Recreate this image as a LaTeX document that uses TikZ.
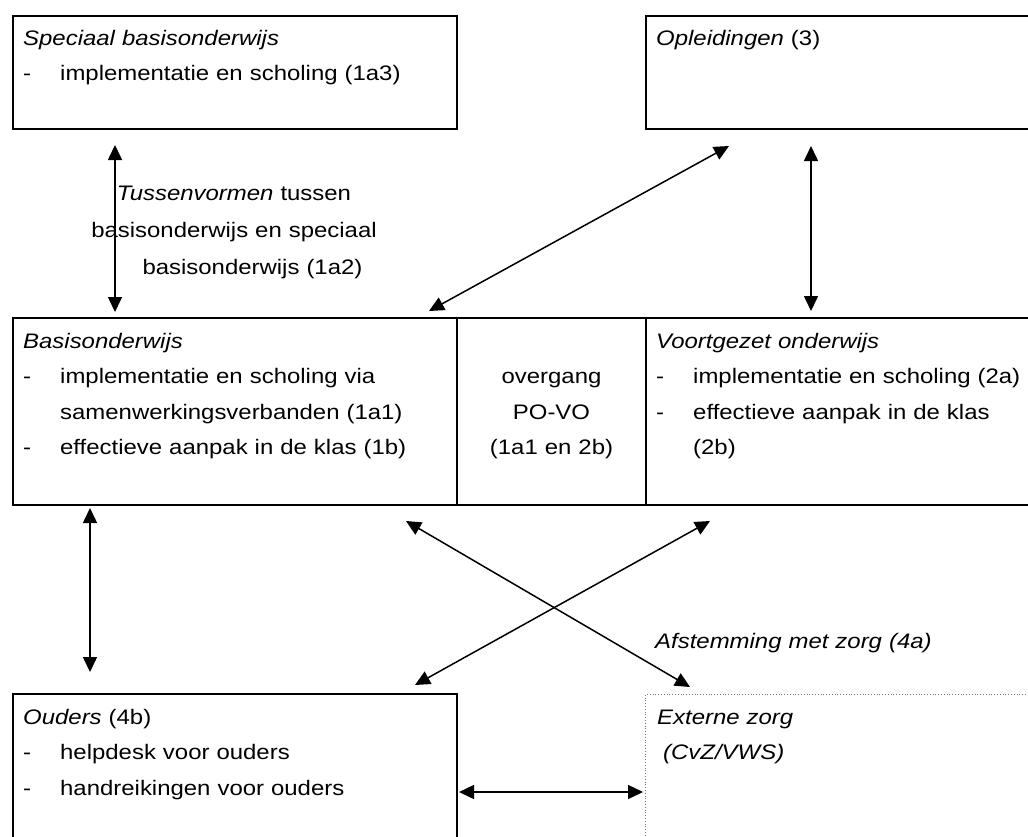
\documentclass[tikz,border=0pt]{standalone}
\usepackage{fontspec}
\setmainfont{Liberation Sans}[FakeStretch=1.14]
\usetikzlibrary{calc,arrows.meta}
\tikzset{
  box/.style={draw, line width=2pt, anchor=north west, inner sep=0pt},
  zorgbox/.style={draw=black!55, dotted, line width=0.8pt, anchor=north west, inner sep=0pt},
  txt/.style={anchor=base west, inner sep=0pt, align=left, text width=420pt, font=\fontsize{21}{35.5}\selectfont},
  ctxt/.style={anchor=base, inner sep=0pt, align=center, text width=300pt, font=\fontsize{21}{35.5}\selectfont},
  link/.style={{Triangle[length=15pt,width=14pt]}-{Triangle[length=15pt,width=14pt]}, line width=1.5pt}
}
\newcommand{\dashitem}[1]{\makebox[37pt][l]{-}#1}

\begin{document}
\begin{tikzpicture}[x=1pt,y=1pt]
  \useasboundingbox (0,0) rectangle (1028,-836);
  \clip (0,0) rectangle (1028,-836);
  % boxes
  \node[box, minimum width=444pt, minimum height=113pt] (sbo) at (12,-15) {};
  \node[box, minimum width=400pt, minimum height=113pt] (opl) at (645,-15) {};
  \node[box, minimum width=444pt, minimum height=187pt] (bo) at (12,-317) {};
  \node[box, minimum width=189pt, minimum height=187pt] (ovg) at (456,-317) {};
  \node[box, minimum width=400pt, minimum height=187pt] (vo) at (645,-317) {};
  \node[box, minimum width=444pt, minimum height=160pt] (oud) at (12,-693) {};
  \node[zorgbox, minimum width=400pt, minimum height=160pt] (ext) at (645,-694) {};
  % texts
  \node[txt] (sbotxt) at ($(sbo.north west)+(11,-30)$)
    {\textit{Speciaal basisonderwijs}\\\dashitem{implementatie en scholing (1a3)}};
  \node[txt] (opltxt) at ($(opl.north west)+(11,-30)$) {\textit{Opleidingen} (3)};
  \node[txt] (botxt) at ($(bo.north west)+(11,-31)$)
    {\textit{Basisonderwijs}\\\dashitem{implementatie en scholing via}\\
     \hspace*{37pt}samenwerkingsverbanden (1a1)\\\dashitem{effectieve aanpak in de klas (1b)}};
  \node[ctxt, text width=180pt] (ovgtxt) at ($(ovg.north)+(0,-66.5)$)
    {overgang\\PO-VO\\(1a1 en 2b)};
  \node[txt, text width=370pt] (votxt) at ($(vo.north west)+(11,-31)$)
    {\textit{Voortgezet onderwijs}\\\dashitem{implementatie en scholing (2a)}\\
     \dashitem{effectieve aanpak in de klas}\\\hspace*{37pt}(2b)};
  \node[txt] (oudtxt) at ($(oud.north west)+(11,-31)$)
    {\textit{Ouders} (4b)\\\dashitem{helpdesk voor ouders}\\\dashitem{handreikingen voor ouders}};
  \node[txt, text width=370pt] (exttxt) at ($(ext.north west)+(12,-30)$)
    {\textit{Externe zorg}\\\hspace*{6pt}\textit{(CvZ/VWS)}};
  \node[ctxt, font=\fontsize{21}{37}\selectfont] (tussen) at (234,-200)
    {\textit{Tussenvormen} tussen\\basisonderwijs en speciaal\\\hspace*{37pt}basisonderwijs (1a2)};
  \node[txt] (afst) at (655,-648) {\textit{Afstemming met zorg (4a)}};
  % connector ends
  \coordinate (sboS) at ($(sbo.south west)+(103,-15)$);
  \coordinate (boN) at ($(bo.north west)+(103,5)$);
  \coordinate (boNE) at ($(bo.north east)+(-29,6)$);
  \coordinate (oplSW) at ($(opl.south west)+(84,-16)$);
  \coordinate (oplS) at ($(opl.south west)+(166,-16)$);
  \coordinate (voN) at ($(vo.north west)+(166,6)$);
  \coordinate (boS) at ($(bo.south west)+(78,-2)$);
  \coordinate (oudN) at ($(oud.north west)+(78,21)$);
  \coordinate (boSE) at ($(bo.south east)+(-52,-15)$);
  \coordinate (extNW) at ($(ext.north west)+(45,7)$);
  \coordinate (voSW) at ($(vo.south west)+(65,-15)$);
  \coordinate (oudNE) at ($(oud.north east)+(-43,8)$);
  \coordinate (oudE) at ($(oud.north east)+(1,-99)$);
  \coordinate (extW) at ($(ext.north west)+(-2,-98)$);
  % arrows
  \draw[link] (sboS) -- (boN);
  \draw[link] (boNE) -- (oplSW);
  \draw[link] (oplS) -- (voN);
  \draw[link] (boS) -- (oudN);
  \draw[link] (boSE) -- (extNW);
  \draw[link] (voSW) -- (oudNE);
  \draw[link] (oudE) -- (extW);
\end{tikzpicture}
\end{document}
